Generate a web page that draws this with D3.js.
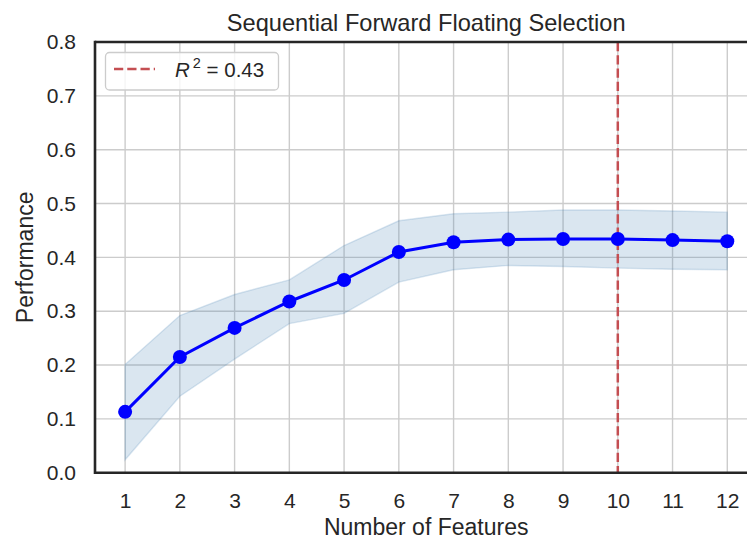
<!DOCTYPE html>
<html lang="en">
  <head>
    <meta charset="utf-8">
    <title>Sequential Forward Floating Selection</title>
    <script src="https://d3js.org/d3.v7.min.js"></script>
    <style>
      body { margin: 0; background: white; }
      svg { display: block; font-family: "Liberation Sans", Arial, sans-serif; }
      .tick text { fill: #262626; font-size: 21px; }
      .domain { display: none; }
    </style>
  </head>
  <body>
    <script>
      // values
      const features = [1, 2, 3, 4, 5, 6, 7, 8, 9, 10, 11, 12];
      const performance = [0.113, 0.215, 0.269, 0.318, 0.358, 0.410, 0.428, 0.433, 0.434, 0.434, 0.432, 0.430];
      const upper = [0.201, 0.292, 0.331, 0.358, 0.422, 0.468, 0.481, 0.484, 0.488, 0.488, 0.486, 0.484];
      const lower = [0.024, 0.142, 0.211, 0.277, 0.296, 0.354, 0.377, 0.385, 0.383, 0.380, 0.378, 0.377];
      const yTicks = [0, 0.1, 0.2, 0.3, 0.4, 0.5, 0.6, 0.7, 0.8];
      const bestK = 10;
      const legendLabel = "0.43";

      const width = 747;
      const height = 541;
      const plotLeft = 95, plotTop = 42, plotRight = 757.4, plotBottom = 472.7;

      const x = d3.scaleLinear().domain([0.45, 12.55]).range([plotLeft, plotRight]);
      const y = d3.scaleLinear().domain([0, 0.8]).range([plotBottom, plotTop]);

      const svg = d3.select("body").append("svg")
                    .attr("width", width)
                    .attr("height", height);

      // grid
      svg.append("g").selectAll("line").data(yTicks).enter().append("line")
         .attr("x1", plotLeft).attr("x2", plotRight)
         .attr("y1", d => y(d)).attr("y2", d => y(d))
         .attr("stroke", "#cccccc").attr("stroke-width", 1.4);
      svg.append("g").selectAll("line").data(features).enter().append("line")
         .attr("x1", d => x(d)).attr("x2", d => x(d))
         .attr("y1", plotTop).attr("y2", plotBottom)
         .attr("stroke", "#cccccc").attr("stroke-width", 1.4);

      // std band
      const rows = features.map((f, i) => ({f: f, p: performance[i], hi: upper[i], lo: lower[i]}));
      const band = d3.area()
                     .x(d => x(d.f))
                     .y0(d => y(d.lo))
                     .y1(d => y(d.hi));
      svg.append("path").datum(rows)
         .attr("d", band)
         .attr("fill", "rgba(70,130,180,0.2)")
         .attr("stroke", "rgba(70,130,180,0.2)")
         .attr("stroke-width", 1.4);

      // selected k
      svg.append("line")
         .attr("x1", x(bestK)).attr("x2", x(bestK))
         .attr("y1", plotTop).attr("y2", plotBottom)
         .attr("stroke", "#c44e52").attr("stroke-width", 2.5)
         .attr("stroke-dasharray", "9.25,4");

      // performance line + markers
      const line = d3.line().x(d => x(d.f)).y(d => y(d.p));
      svg.append("path").datum(rows)
         .attr("d", line)
         .attr("fill", "none")
         .attr("stroke", "#0000ff")
         .attr("stroke-width", 3);
      svg.append("g").selectAll("circle").data(rows).enter().append("circle")
         .attr("cx", d => x(d.f)).attr("cy", d => y(d.p))
         .attr("r", 7)
         .attr("fill", "#0000ff");

      // axes
      svg.append("g")
         .attr("transform", `translate(0,${plotBottom})`)
         .call(d3.axisBottom(x).tickValues(features).tickSize(0).tickPadding(20).tickFormat(d3.format("d")));
      svg.append("g")
         .attr("transform", `translate(${plotLeft},0)`)
         .call(d3.axisLeft(y).tickValues(yTicks).tickSize(0).tickPadding(19).tickFormat(d3.format(".1f")));

      // spines (right one is off the canvas)
      const spine = "#262626";
      svg.append("line").attr("x1", plotLeft).attr("x2", plotLeft).attr("y1", plotTop - 1.3).attr("y2", plotBottom + 1.3)
         .attr("stroke", spine).attr("stroke-width", 2.6);
      svg.append("line").attr("x1", plotLeft).attr("x2", width).attr("y1", plotTop).attr("y2", plotTop)
         .attr("stroke", spine).attr("stroke-width", 2.6);
      svg.append("line").attr("x1", plotLeft).attr("x2", width).attr("y1", plotBottom).attr("y2", plotBottom)
         .attr("stroke", spine).attr("stroke-width", 2.6);

      // labels
      svg.append("text")
         .attr("x", (plotLeft + plotRight) / 2).attr("y", 31)
         .attr("text-anchor", "middle")
         .attr("fill", "#262626").style("font-size", "23.6px")
         .text("Sequential Forward Floating Selection");
      svg.append("text")
         .attr("x", (plotLeft + plotRight) / 2).attr("y", 535)
         .attr("text-anchor", "middle")
         .attr("fill", "#262626").style("font-size", "23px")
         .text("Number of Features");
      svg.append("text")
         .attr("transform", `translate(33,${(plotTop + plotBottom) / 2}) rotate(-90)`)
         .attr("text-anchor", "middle")
         .attr("fill", "#262626").style("font-size", "23px")
         .text("Performance");

      // legend
      const lg = svg.append("g");
      lg.append("rect")
        .attr("x", 105.5).attr("y", 52.5).attr("width", 173).attr("height", 37.5)
        .attr("rx", 4)
        .attr("fill", "rgba(255,255,255,0.8)")
        .attr("stroke", "#cccccc").attr("stroke-width", 1.3);
      lg.append("line")
        .attr("x1", 114).attr("x2", 155).attr("y1", 69).attr("y2", 69)
        .attr("stroke", "#c44e52").attr("stroke-width", 2.5)
        .attr("stroke-dasharray", "9.25,4");
      const lt = lg.append("text")
        .attr("x", 175).attr("y", 77)
        .attr("fill", "#262626").style("font-size", "20.5px");
      lt.append("tspan").style("font-style", "italic").text("R");
      lt.append("tspan").attr("dx", 3).attr("dy", -9).style("font-size", "14.5px").text("2");
      lt.append("tspan").attr("dy", 9).text(" = " + legendLabel);
    </script>
  </body>
</html>
